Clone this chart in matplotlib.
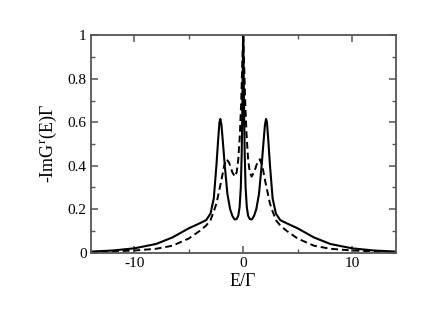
import matplotlib
matplotlib.use("Agg")
import matplotlib.pyplot as plt
from matplotlib.ticker import MultipleLocator

# values
E_solid = [-14, -12, -10, -8, -6.5, -5, -4, -3.4, -3.0, -2.7, -2.46, -2.3, -2.18, -2.1,
           -2.0, -1.85, -1.69, -1.45, -1.2, -1.0, -0.8, -0.6, -0.45, -0.33, -0.22, -0.14,
           -0.08, -0.03, 0,
           0.03, 0.08, 0.14, 0.22, 0.33, 0.45, 0.6, 0.8, 1.0, 1.2, 1.45, 1.69, 1.85, 2.0,
           2.1, 2.18, 2.3, 2.46, 2.7, 3.0, 3.4, 4, 5, 6.5, 8, 10, 12, 14]
G_solid = [0.005, 0.01, 0.02, 0.04, 0.07, 0.112, 0.135, 0.15, 0.18, 0.25, 0.4, 0.52, 0.6, 0.615,
           0.59, 0.5, 0.4, 0.27, 0.2, 0.17, 0.153, 0.155, 0.17, 0.21, 0.3, 0.45,
           0.65, 0.9, 1.0,
           0.9, 0.65, 0.45, 0.3, 0.21, 0.17, 0.155, 0.153, 0.17, 0.2, 0.27, 0.4, 0.5, 0.59,
           0.615, 0.6, 0.52, 0.4, 0.25, 0.18, 0.15, 0.135, 0.112, 0.07, 0.04, 0.02, 0.01, 0.005]

E_dash = [-14, -12, -10, -8, -6.5, -5, -4, -3.4, -3.0, -2.7, -2.45, -2.0, -1.75, -1.53,
          -1.3, -1.0, -0.77, -0.6, -0.45, -0.3, -0.18, -0.08, 0,
          0.08, 0.18, 0.3, 0.45, 0.6, 0.77, 1.0, 1.3, 1.53, 1.75, 2.0, 2.45, 2.7, 3.0,
          3.4, 4, 5, 6.5, 8, 10, 12, 14]
G_dash = [0.003, 0.006, 0.01, 0.018, 0.032, 0.065, 0.1, 0.125, 0.15, 0.19, 0.227, 0.334, 0.4, 0.43,
          0.415, 0.37, 0.35, 0.37, 0.43, 0.55, 0.7, 0.88, 1.0,
          0.88, 0.7, 0.55, 0.43, 0.37, 0.35, 0.37, 0.415, 0.43, 0.4, 0.334, 0.227, 0.19, 0.15,
          0.125, 0.1, 0.065, 0.032, 0.018, 0.01, 0.006, 0.003]

plt.rcParams['font.family'] = ['Liberation Serif', 'DejaVu Serif']
plt.rcParams['mathtext.fontset'] = 'stix'
plt.rcParams['axes.unicode_minus'] = False

fig = plt.figure(figsize=(4.36, 3.11), dpi=100)
ax = fig.add_axes([0.208, 0.1875, 0.6996, 0.699])

ax.plot(E_solid, G_solid, color='black', lw=1.5)
ax.plot(E_dash, G_dash, color='black', lw=1.4, ls=(0, (3.5, 2)))

ax.set_xlim(-14, 14)
ax.set_ylim(0, 1)
ax.xaxis.set_major_locator(MultipleLocator(10))
ax.xaxis.set_minor_locator(MultipleLocator(5))
ax.yaxis.set_minor_locator(MultipleLocator(0.1))
ax.set_yticks([0, 0.2, 0.4, 0.6, 0.8, 1.0])
ax.set_yticklabels(['0', '0.2', '0.4', '0.6', '0.8', '1'])

edge = '#555555'
for s in ax.spines.values():
    s.set_color(edge)
    s.set_linewidth(1.3)
ax.tick_params(which='both', direction='in', top=True, right=True, color=edge,
               labelsize=11, pad=3)
ax.tick_params(which='major', length=5, width=1.1)
ax.tick_params(which='minor', length=3, width=1.0)

ax.set_xlabel('E/Γ', fontsize=13, labelpad=2)
ax.set_ylabel('-ImG$^{\\mathrm{r}}$(E)Γ', fontsize=13, labelpad=6)

fig.savefig('out.png', dpi=100)
